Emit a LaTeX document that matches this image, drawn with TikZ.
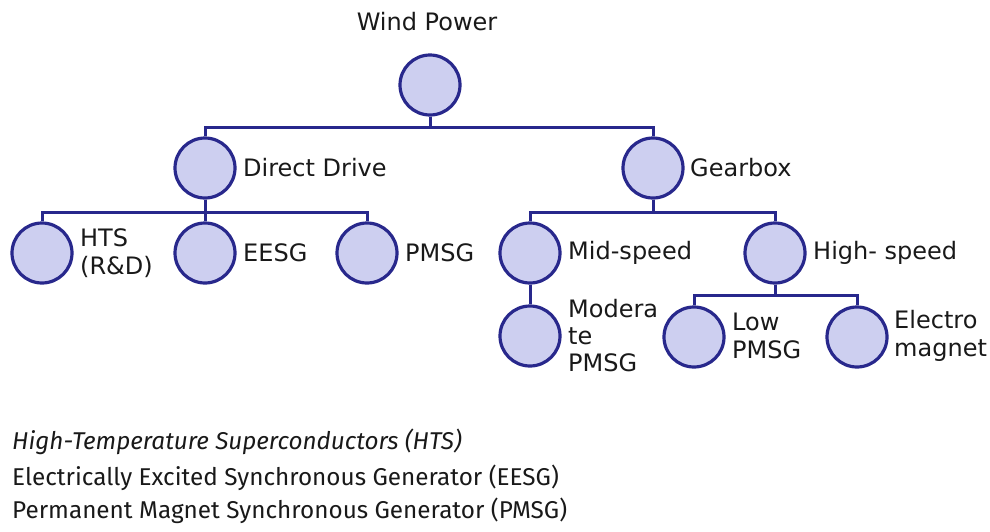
\documentclass[tikz,border=0pt]{standalone}
\usepackage{fontspec}
\setmainfont{DejaVu Sans}
\newfontfamily\legfont{Fira Sans}
\definecolor{cfill}{RGB}{205,207,240}
\definecolor{cline}{RGB}{40,40,140}
\definecolor{ctext}{RGB}{25,25,25}
\begin{document}
\begin{tikzpicture}[x=1pt,y=-1pt,
  bub/.style={circle, draw=cline, fill=cfill, line width=3.2pt, minimum size=60pt, inner sep=0pt},
  conn/.style={draw=cline, line width=3pt},
  lab/.style={anchor=west, font=\fontsize{24}{28}\selectfont, align=left, inner sep=0pt, text=ctext},
  leg/.style={anchor=west, font=\legfont\fontsize{24.3}{26}\selectfont, inner sep=0pt, text=ctext}]
\useasboundingbox (0,0) rectangle (990,531);
\coordinate (b1) at (0,127);
\coordinate (b2) at (0,212);
\coordinate (b3) at (0,295);
% nodes
\node[bub] (root) at (430,85) {};
\node[bub] (dd) at (205,168) {};
\node[bub] (gb) at (653,168) {};
\node[bub] (hts) at (42,253) {};
\node[bub] (eesg) at (205,253) {};
\node[bub] (pmsg) at (367,253) {};
\node[bub] (mid) at (530,253) {};
\node[bub] (high) at (775,253) {};
\node[bub] (mod) at (530,336) {};
\node[bub] (low) at (694,337) {};
\node[bub] (elec) at (857,337) {};
% connectors
\draw[conn] (root.south) -- (root.south|-b1);
\draw[conn] (dd.north) -- (dd.north|-b1) -- (gb.north|-b1) -- (gb.north);
\draw[conn] (dd.south) -- (dd.south|-b2);
\draw[conn] (hts.north) -- (hts.north|-b2) -- (pmsg.north|-b2) -- (pmsg.north);
\draw[conn] (eesg.north) -- (eesg.north|-b2);
\draw[conn] (gb.south) -- (gb.south|-b2);
\draw[conn] (mid.north) -- (mid.north|-b2) -- (high.north|-b2) -- (high.north);
\draw[conn] (mid.south) -- (mod.north);
\draw[conn] (high.south) -- (high.south|-b3);
\draw[conn] (low.north) -- (low.north|-b3) -- (elec.north|-b3) -- (elec.north);
% labels
\node[lab, anchor=center] (troot) at (427,22) {Wind Power};
\node[lab] (tdd) at (243,168) {Direct Drive};
\node[lab] (tgb) at (690,168) {Gearbox};
\node[lab] (thts) at (80,253) {HTS\\(R\&D)};
\node[lab] (teesg) at (243,253) {EESG};
\node[lab] (tpmsg) at (405,253) {PMSG};
\node[lab] (tmid) at (568,253) {Mid-speed};
\node[lab] (thigh) at (813,253) {High- speed};
\node[lab, font=\fontsize{24}{27}\selectfont] (tmod) at (568,336) {Modera\\te\\PMSG};
\node[lab] (tlow) at (732,336) {Low\\PMSG};
\node[lab] (telec) at (894,336) {Electro\\magnet};
% legend
\node[leg, font=\legfont\itshape\fontsize{24.3}{26}\selectfont] (l1) at (12,442) {High-Temperature Superconductors (HTS)};
\node[leg] (l2) at (12,478) {Electrically Excited Synchronous Generator (EESG)};
\node[leg] (l3) at (12,511) {Permanent Magnet Synchronous Generator (PMSG)};
\end{tikzpicture}
\end{document}
